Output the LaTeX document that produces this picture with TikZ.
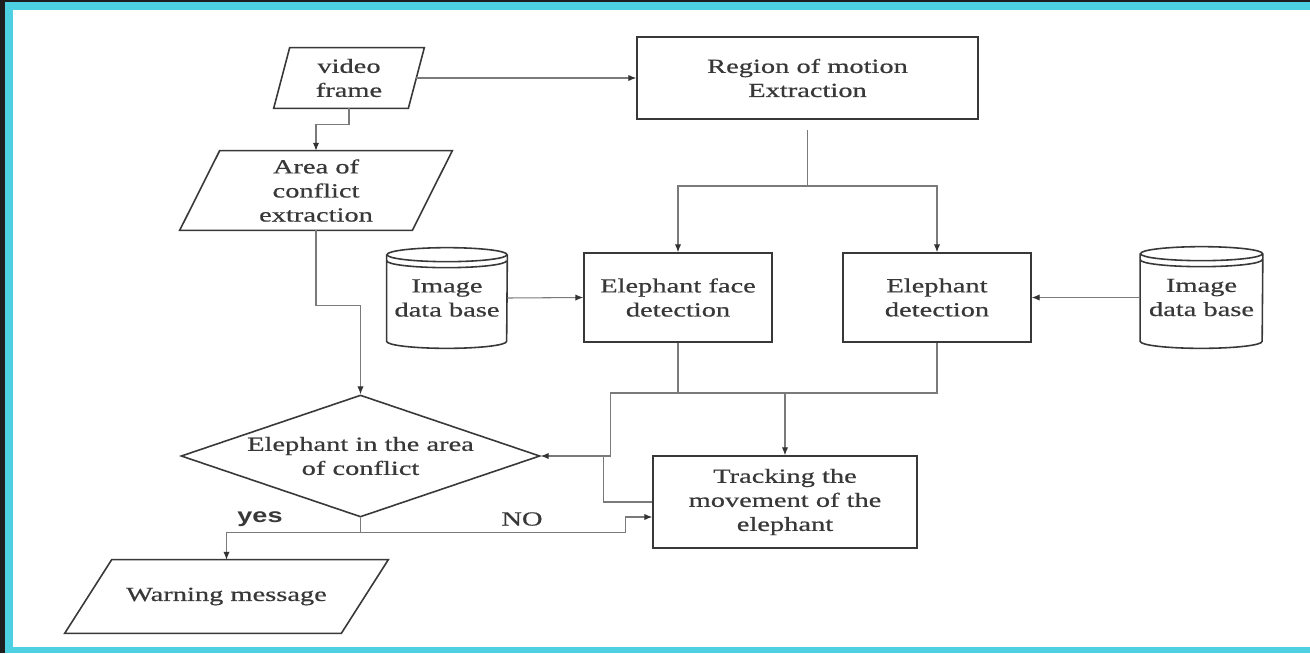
\documentclass[tikz,border=0pt]{standalone}
\usepackage{fontspec}
\setmainfont[FakeStretch=1.42,FakeBold=0.6]{Liberation Serif}
\newfontfamily\yesfont[FakeStretch=1.35]{Liberation Sans}
\usepackage{tikz}
\usetikzlibrary{arrows.meta,calc,shapes.geometric}
\tikzset{>=latex}
\definecolor{framecyan}{HTML}{4DD0E1}
\definecolor{framedark}{HTML}{1E1E1E}
\definecolor{inkgray}{HTML}{383838}
\definecolor{wiregray}{HTML}{7A7A7A}
\tikzstyle{block}=[draw=inkgray,line width=0.9pt,text=inkgray,align=center,inner sep=0pt]
\tikzstyle{iobox}=[text=inkgray,align=center,inner sep=0pt]
\tikzstyle{wire}=[wiregray,line width=0.6pt]
\tikzstyle{flow}=[wire,-{Latex[length=4.5pt,width=3.6pt,color=black!80]}]

\begin{document}
\begin{tikzpicture}[x=0.02cm,y=-0.02cm,font=\fontsize{11.4}{13.7}\selectfont]

  \useasboundingbox (0,0) rectangle (1310,653);
  \fill[framedark] (0,0) rectangle (1310,653); % screen frame
  \fill[framecyan] (5,2) rectangle (1310,653);
  \fill[white] (13,10) rectangle (1310,647);

  % process boxes
  \node[block,minimum width=6.82cm,minimum height=1.64cm] (region) at (807.5,78) {Region of motion\\Extraction};
  \node[block,minimum width=3.76cm,minimum height=1.78cm] (face) at (678,297.5) {Elephant face\\detection};
  \node[block,minimum width=3.76cm,minimum height=1.78cm] (detect) at (937,297.5) {Elephant\\detection};
  \node[block,minimum width=5.28cm,minimum height=1.84cm] (track) at (785,502) {Tracking the\\movement of the\\elephant};
  \node[block,shape=diamond,aspect=2.94,minimum width=7.18cm,minimum height=2.44cm] (cond) at (360.5,456) {Elephant in the area\\of conflict};

  % input / output boxes, outline drawn below
  \node[iobox,minimum width=2.68cm,minimum height=1.2cm] (video) at (349,78) {video\\frame};
  \node[iobox,minimum width=4.64cm,minimum height=1.58cm] (area) at (316,190.5) {Area of\\conflict\\extraction};
  \node[iobox,minimum width=5.52cm,minimum height=1.46cm] (warn) at (226.5,596.5) {Warning message};
  \foreach \n/\s in {video/8,area/20,warn/23.5}{
    \draw[block] ($(\n.north west)+(\s,0)$) -- ($(\n.north east)+(\s,0)$) --
      ($(\n.south east)-(\s,0)$) -- ($(\n.south west)-(\s,0)$) -- cycle;
  }

  % data bases
  \node[iobox,minimum width=2.4cm,minimum height=1.72cm] (db1) at (447,298) {Image\\data base};
  \node[iobox,minimum width=2.44cm,minimum height=1.74cm] (db2) at (1201.5,297.5) {Image\\data base};
  \foreach \n/\r in {db1/1.2cm,db2/1.22cm}{
    \draw[block] (\n.north) ellipse [x radius=\r,y radius=0.14cm];
    \draw[block] (\n.north west) -- (\n.south west) arc [start angle=180,end angle=360,x radius=\r,y radius=0.14cm] -- (\n.north east);
    \draw[block] ($(\n.north west)+(0,6)$) arc [start angle=180,end angle=360,x radius=\r,y radius=0.14cm];
  }

  % connectors
  \coordinate (split) at (region.south |- 0,186);
  \coordinate (merge) at (track.north |- 0,393);
  \coordinate (fork) at ($(cond.south)+(0,15)$);

  \draw[flow] (video.east) -- (region.west);
  \draw[flow] (video.south) -- ++(0,16) -| (area.north);
  \draw[flow] (area.south) -- ++(0,75) -| (cond.north);
  \draw[wire,shorten <=0.2cm] (region.south) -- (split);
  \draw[flow] (split) -| (face.north);
  \draw[flow] (split) -| (detect.north);
  \draw[flow] (db1.east) -- (face.west);
  \draw[flow] (db2.west) -- (detect.east);
  \draw[wire] (face.south) |- (merge);
  \draw[wire] (detect.south) |- (merge);
  \draw[flow] (merge) -- (track.north);
  \draw[flow] (face.south |- merge) -| ($(cond.east)+(70,0)$) -- (cond.east);
  \draw[wire] (track.west) -| ($(cond.east)+(63,0)$);
  \draw[flow] (cond.south) -- (fork) -| (warn.north);
  \draw[flow] (fork) -- ++(265,0) |- ($(track.west)+(0,15)$);

  \node[text=inkgray,font=\yesfont\bfseries\fontsize{11.4}{13.7}\selectfont] (yes) at (260,519) {yes};
  \node[text=inkgray] (no) at (522,519) {NO};

\end{tikzpicture}
\end{document}
